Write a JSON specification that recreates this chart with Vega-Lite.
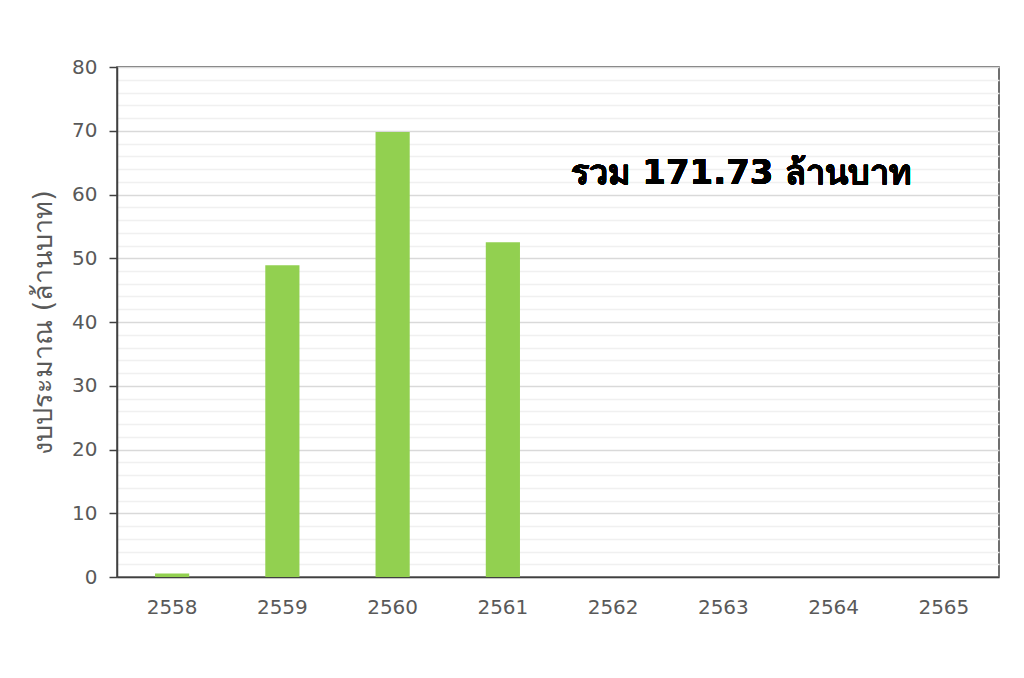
{
  "$schema": "https://vega.github.io/schema/vega-lite/v6.json",
  "width": 882,
  "height": 510,
  "autosize": {"type": "none"},
  "padding": {"left": 117, "top": 67, "right": 25, "bottom": 101},
  "background": "white",
  "config": {
    "view": {"stroke": "#404040", "strokeWidth": 1.5},
    "font": "DejaVu Sans"
  },
  "data": {"values": [
    {"year": "2558", "budget": 0.53},
    {"year": "2559", "budget": 48.9},
    {"year": "2560", "budget": 69.8},
    {"year": "2561", "budget": 52.5},
    {"year": "2562", "budget": 0},
    {"year": "2563", "budget": 0},
    {"year": "2564", "budget": 0},
    {"year": "2565", "budget": 0}
  ]},
  "layer": [
    {
      "mark": {"type": "bar", "color": "#92d050"},
      "encoding": {
        "x": {
          "field": "year", "type": "nominal", "sort": null,
          "scale": {"paddingInner": 0.69, "paddingOuter": 0.345},
          "axis": {
            "title": null, "labelAngle": 0, "ticks": false,
            "labelFontSize": 20, "labelColor": "#595959", "labelPadding": 20,
            "domainColor": "#404040", "domainWidth": 1.5
          }
        },
        "y": {
          "field": "budget", "type": "quantitative",
          "scale": {"domain": [0, 80], "nice": false},
          "axis": {
            "title": "งบประมาณ (ล้านบาท)",
            "titleFontSize": 27, "titleFontWeight": "normal", "titleColor": "#595959",
            "titlePadding": 14,
            "tickCount": 100,
            "values": [0,2,4,6,8,10,12,14,16,18,20,22,24,26,28,30,32,34,36,38,40,42,44,46,48,50,52,54,56,58,60,62,64,66,68,70,72,74,76,78,80],
            "labelExpr": "datum.value % 10 === 0 ? datum.label : ''",
            "labelOverlap": false,
            "labelFontSize": 20, "labelColor": "#595959", "labelPadding": 12,
            "domainColor": "#404040", "domainWidth": 1.5,
            "tickSize": 8, "tickColor": "#404040", "tickWidth": 1.5,
            "tickOpacity": {"condition": {"test": "datum.value % 10 === 0", "value": 1}, "value": 0},
            "gridColor": {"condition": {"test": "datum.value % 10 === 0", "value": "#d9d9d9"}, "value": "#f0f0f0"},
            "gridWidth": 1.5
          }
        }
      }
    },
    {
      "mark": {"type": "text", "fontSize": 34, "fontWeight": "bold", "color": "black", "align": "center", "baseline": "middle", "dx": 18, "dy": 2},
      "encoding": {
        "x": {"datum": "2563", "type": "nominal"},
        "y": {"datum": 63.5, "type": "quantitative"},
        "text": {"value": "รวม 171.73 ล้านบาท"}
      }
    }
  ]
}
